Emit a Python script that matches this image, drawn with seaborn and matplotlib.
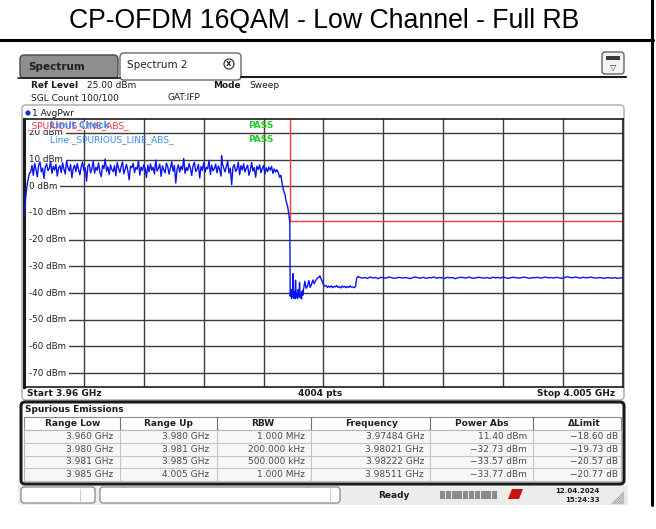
import numpy as np
import pandas as pd
import matplotlib
matplotlib.use("Agg")
import matplotlib.pyplot as plt
from matplotlib.patches import Rectangle, FancyBboxPatch, Circle, Polygon
import seaborn as sns

# ---------------------------------------------------------------- data
title = "CP-OFDM 16QAM - Low Channel - Full RB"

# spurious emission ranges and their measured peaks
range_low_ghz = [3.960, 3.980, 3.981, 3.985]
range_up_ghz = [3.980, 3.981, 3.985, 4.005]
rbw_hz = [1.0e6, 200.0e3, 500.0e3, 1.0e6]
peak_freq_ghz = [3.97484, 3.98021, 3.98222, 3.98511]
peak_power_dbm = [11.40, -32.73, -33.57, -33.77]
limit_dbm = [30.0, -13.0, -13.0, -13.0]

# average power trace, in MHz / dBm
lead_in_mhz = [3960.0, 3960.08, 3960.16, 3960.25, 3960.35, 3960.42]
lead_in_dbm = [-11.5, -7.0, -2.5, 1.0, 3.6, 5.0]

band_start_mhz = 3960.5
band_step_mhz = 0.1
band_dbm = [
    5.2, 7.8, 4.1, 8.6, 6.3, 3.5, 7.9, 9.1, 5.4, 6.8, 2.9, 7.2, 8.4, 5.9, 6.6, 9.3, 4.8, 7.5, 6.1, 8.2,
    3.8, 6.9, 7.7, 5.1, 8.8, 6.4, 4.6, 9.6, 7.0, 5.7, 8.1, 3.2, 6.7, 7.9, 5.5, 8.5, 6.2, 4.3, 7.4, 9.0,
    5.8, 6.9, 1.9, 7.6, 8.3, 5.0, 6.5, 9.4, 4.9, 7.1, 6.0, 8.7, 5.3, 3.6, 7.8, 6.6, 10.2, 5.6, 7.3, 4.4,
    8.0, 6.2, 5.5, 7.7, 3.9, 8.9, 6.8, 5.2, 7.4, 9.1, 4.7, 6.3, 8.2, 5.8, 2.4, 7.5, 6.9, 8.6, 5.1, 7.0,
    6.4, 9.5, 4.2, 7.2, 5.9, 8.1, 6.6, 3.3, 7.9, 5.4, 8.4, 6.0, 7.1, 4.6, 9.8, 5.7, 6.8, 8.3, 3.7, 7.6,
    6.1, 5.0, 8.7, 7.3, 4.5, 6.9, 9.2, 5.6, 7.8, 1.2, 6.4, 8.0, 5.3, 7.5, 6.2, 10.4, 4.8, 7.0, 5.9, 8.5,
    6.7, 4.0, 7.7, 9.0, 5.5, 6.3, 8.2, 3.1, 7.4, 6.0, 8.8, 5.2, 7.1, 6.5, 9.7, 4.4, 7.9, 5.8, 6.6, 8.3,
    5.0, 7.6, 6.2, 3.8, 8.6, 6.9, 5.4, 7.3, 9.4, 4.9, 6.8, 0.6, 7.2, 8.1, 5.6, 6.4, 9.0, 4.3, 7.7, 6.1,
    8.4, 5.3, 6.7, 7.9, 4.1, 6.0, 8.9, 5.7, 7.0, 3.4, 7.5, 6.3, 8.0, 5.1, 6.6, 7.8, 4.6, 6.9, 5.5, 7.2,
    6.0, 7.4, 4.8, 6.5, 5.3, 6.2,
]

rolloff_mhz = [3979.1, 3979.2, 3979.3, 3979.4, 3979.5, 3979.6, 3979.7, 3979.8, 3979.9, 3979.97]
rolloff_dbm = [5.2, 3.4, 4.1, 0.8, -1.6, -2.9, -5.8, -7.4, -10.6, -13.6]

edge_start_mhz = 3980.0
edge_step_mhz = 0.05
edge_dbm = [-41.2, -38.6, -42.0, -40.7, -41.6, -41.9, -39.5, -42.2, -35.2, -41.7,
            -40.1, -42.1, -38.7, -41.4, -36.0, -41.8, -40.4, -42.2, -39.2, -40.8]

shoulder_start_mhz = 3981.0
shoulder_step_mhz = 0.1
shoulder_dbm = [-38.6, -35.6, -38.2, -37.4, -35.3, -37.9, -36.7, -35.1, -36.5, -35.4,
                -34.7, -34.2, -33.9, -34.5, -35.6, -36.8, -37.4, -37.2, -37.9, -37.4,
                -37.8, -37.3, -38.0, -37.5, -37.7, -37.2, -37.9, -37.6, -38.1, -37.4,
                -37.8, -37.5, -38.0, -37.6, -37.9, -37.3, -37.8, -37.7, -38.0, -37.6]

floor_start_mhz = 3985.0
floor_step_mhz = 0.2
floor_dbm = [
    -34.3, -34.1, -34.4, -34.2, -34.5, -34.0, -34.3, -34.2, -34.6, -34.1,
    -34.3, -34.4, -34.0, -34.2, -34.5, -34.3, -34.1, -34.4, -34.2, -34.3,
    -34.6, -34.2, -34.0, -34.3, -34.4, -34.1, -34.5, -34.2, -34.3, -34.0,
    -34.4, -34.2, -34.3, -34.5, -34.1, -34.3, -34.2, -34.6, -34.3, -34.1,
    -34.2, -34.4, -34.0, -34.3, -34.5, -34.2, -34.1, -34.3, -34.4, -34.2,
    -34.5, -34.1, -34.3, -34.2, -34.4, -34.0, -34.3, -34.5, -34.2, -34.1,
    -34.3, -34.4, -34.2, -34.0, -34.3, -34.5, -34.2, -34.3, -34.1, -34.4,
    -34.2, -34.0, -34.3, -34.2, -34.4, -34.1, -34.3, -34.5, -34.2, -33.9,
    -34.1, -34.3, -34.0, -34.2, -34.4, -34.1, -34.3, -34.2, -34.0, -34.3,
    -34.4, -34.2, -34.3, -34.5, -34.2, -34.3, -34.4, -34.2, -34.5, -34.3, -34.4,
]

y_ticks_dbm = [20, 10, 0, -10, -20, -30, -40, -50, -60, -70]


def stepped(start, step, values):
    return [start + i * step for i in range(len(values))]


freq_mhz = (lead_in_mhz
            + stepped(band_start_mhz, band_step_mhz, band_dbm)
            + rolloff_mhz
            + stepped(edge_start_mhz, edge_step_mhz, edge_dbm)
            + stepped(shoulder_start_mhz, shoulder_step_mhz, shoulder_dbm)
            + stepped(floor_start_mhz, floor_step_mhz, floor_dbm)
            + [f * 1000 for f in peak_freq_ghz])
level = (lead_in_dbm + band_dbm + rolloff_dbm + edge_dbm + shoulder_dbm
         + floor_dbm + peak_power_dbm)
trace = pd.DataFrame({"freq_ghz": np.array(freq_mhz) / 1000.0, "level_dbm": level})
trace = trace.sort_values("freq_ghz").reset_index(drop=True)

# limit line as a stepped path over the ranges
lim_f, lim_v = [], []
for lo, up, lim in zip(range_low_ghz, range_up_ghz, limit_dbm):
    lim_f += [lo, up]
    lim_v += [lim, lim]

# ---------------------------------------------------------------- figure
sns.set_theme(style="white")
plt.rcParams["font.family"] = ["DejaVu Sans"]

W, H = 656, 529
fig = plt.figure(figsize=(W / 100, H / 100), dpi=100)
fig.patch.set_facecolor("white")

bg = fig.add_axes([0, 0, 1, 1])
bg.set_xlim(0, W)
bg.set_ylim(H, 0)
bg.axis("off")


def box(x0, y0, x1, y1, fc, ec, lw=1.0, r=0.0, z=1):
    if r:
        p = FancyBboxPatch((x0, y0), x1 - x0, y1 - y0,
                           boxstyle=f"round,pad=0,rounding_size={r}",
                           fc=fc, ec=ec, lw=lw, zorder=z)
    else:
        p = Rectangle((x0, y0), x1 - x0, y1 - y0, fc=fc, ec=ec, lw=lw, zorder=z)
    bg.add_patch(p)


def label(x, y, s, size=6.5, weight="normal", color="#1a1a1a", ha="left", **kw):
    return fig.text(x / W, 1 - y / H, s, fontsize=size, fontweight=weight,
                    color=color, ha=ha, va="center", **kw)


# title cell
label(324, 21, title, size=19.2, color="black", ha="center", family="Liberation Sans")
bg.plot([0, 653], [40, 40], color="black", lw=2.2, zorder=5)
bg.plot([652, 652], [0, 505], color="black", lw=2.2, zorder=5)

# tabs
box(20, 55, 118, 78, fc="#8e8e8e", ec="#4a4a4a", r=4)
label(28, 66.5, "Spectrum", size=7.5, weight="bold", color="#202020")
box(120, 53, 241, 80, fc="white", ec="#6a6a6a", r=4)
label(127, 65, "Spectrum 2", size=7.5, color="#202020")
bg.add_patch(Circle((229, 64), 5.0, fc="white", ec="#333333", lw=0.9, zorder=2))
label(229, 64, "x", size=6, weight="bold", ha="center", color="#202020")
bg.plot([241, 626], [76.5, 76.5], color="#1a1a1a", lw=1.5, zorder=3)
bg.plot([18, 120], [77.5, 77.5], color="#1a1a1a", lw=1.2, zorder=3)
box(602, 52, 624, 74, fc="#f4f4f4", ec="#555555", lw=0.9, r=3)
box(606, 56, 620, 60, fc="#3a3a3a", ec="none", z=2)
label(613, 67, "\u25bd", size=6, ha="center", color="#333333")

# header settings
label(31, 86, "Ref Level", weight="bold")
label(87, 86, "25.00 dBm")
label(213, 86, "Mode", weight="bold")
label(249, 86, "Sweep")
label(31, 98, "SGL Count 100/100")
label(168, 98, "GAT:IFP")

# diagram frame
box(22, 105, 624, 400, fc="none", ec="#a8a8a8", lw=1.0, r=4)
bg.add_patch(Circle((28, 113), 2.6, fc="#1030e0", ec="none", zorder=2))
label(32, 113, "1 AvgPwr")
label(27, 393, "Start 3.96 GHz", weight="bold")
label(320, 393, "4004 pts", weight="bold", ha="center")
label(615, 393, "Stop 4.005 GHz", weight="bold", ha="right")

# spectrum diagram
x0, x1, y0, y1 = 24, 623, 119.5, 386.5
ax = fig.add_axes([x0 / W, 1 - y1 / H, (x1 - x0) / W, (y1 - y0) / H])
ax.set_facecolor("white")
ax.set_xlim(range_low_ghz[0], range_up_ghz[-1])
ax.set_ylim(-75, 25)
ax.set_xticks(np.linspace(range_low_ghz[0], range_up_ghz[-1], 11))
ax.set_yticks(y_ticks_dbm)
ax.grid(True, color="#3c3c3c", lw=1.0)
ax.set_axisbelow(True)
ax.tick_params(length=0, labelbottom=False, labelleft=False)
for side, sp in ax.spines.items():
    sp.set_color("#1a1a1a")
    sp.set_linewidth(1.2)
ax.spines["left"].set_linewidth(2.2)

for v in y_ticks_dbm:
    ax.text(0.008, v, f"{v} dBm", transform=ax.get_yaxis_transform(),
            fontsize=6.3, va="center", ha="left", color="#202020", zorder=2,
            bbox=dict(fc="white", ec="none", pad=2.4))

ax.plot(lim_f, lim_v, color="#ff3838", lw=1.0, zorder=2.5)
sns.lineplot(data=trace, x="freq_ghz", y="level_dbm", ax=ax, color="#0a14f0",
             lw=1.0, sort=False, estimator=None, zorder=3)
ax.set_xlabel("")
ax.set_ylabel("")

# limit check annotations
label(27, 125.5, "_SPURIOUS_LINE_ABS_", color="#ff3030",
      bbox=dict(fc="white", ec="none", pad=0.3))
label(50, 125.5, "Limit Check", color="#3a8cff", weight="bold")
label(248, 125.5, "PASS", color="#22cc22", weight="bold")
label(50, 140, "Line _SPURIOUS_LINE_ABS_", color="#3a8cff")
label(248, 140, "PASS", color="#22cc22", weight="bold")

# spurious emissions table
box(21, 402, 624, 484, fc="white", ec="#1a1a1a", lw=2.2, r=4)
label(25, 410, "Spurious Emissions", weight="bold")
box(24, 417, 621, 430, fc="white", ec="#8a8a8a", lw=0.8, z=2)
box(24, 430, 621, 481, fc="#f7f7f7", ec="#b8b8b8", lw=0.8, z=2)
col_sep = [120, 217, 311, 430, 533]
for xs in col_sep:
    bg.plot([xs, xs], [417, 430], color="#707070", lw=0.8, zorder=3)
    bg.plot([xs, xs], [430, 481], color="#c4c4c4", lw=0.8, zorder=3)
for ys in [442.8, 455.5, 468.2]:
    bg.plot([24, 621], [ys, ys], color="#c4c4c4", lw=0.8, zorder=3)

headers = ["Range Low", "Range Up", "RBW", "Frequency", "Power Abs", "\u0394Limit"]
head_x = [73, 168, 263, 372, 482, 584]
for hx, h in zip(head_x, headers):
    label(hx, 424, h, weight="bold", ha="center", color="#202020")


def fmt_rbw(v):
    return f"{v / 1e6:.3f} MHz" if v >= 1e6 else f"{v / 1e3:.3f} kHz"


cell_right = [113, 209, 305, 424, 527, 618]
row_y = [436.5, 449.2, 461.9, 474.6]
for i, ry in enumerate(row_y):
    cells = [f"{range_low_ghz[i]:.3f} GHz", f"{range_up_ghz[i]:.3f} GHz",
             fmt_rbw(rbw_hz[i]), f"{peak_freq_ghz[i]:.5f} GHz",
             f"{peak_power_dbm[i]:.2f} dBm",
             f"{peak_power_dbm[i] - limit_dbm[i]:.2f} dB"]
    for cx, s in zip(cell_right, cells):
        label(cx, ry, s.replace("-", "\u2212"), ha="right", color="#4a4a4a")

# status bar
box(18, 485, 628, 505, fc="#ececec", ec="none", z=0.5)
box(21, 487, 95, 503, fc="white", ec="#7a7a7a", lw=0.8, r=3)
bg.plot([80, 80], [489, 501], color="#d0d0d0", lw=0.8, zorder=3)
box(100, 487, 340, 503, fc="white", ec="#7a7a7a", lw=0.8, r=3)
bg.plot([330, 330], [489, 501], color="#d0d0d0", lw=0.8, zorder=3)
label(378, 495, "Ready", weight="bold")
for k in range(10):
    box(440 + k * 5.8, 491, 440 + k * 5.8 + 5.0, 499, fc="#8a8a8a", ec="none", z=2)
bg.add_patch(Polygon([(508, 499), (512, 489), (523, 489), (519, 499)],
                     closed=True, fc="#cc1010", ec="none", zorder=2))
label(600, 491, "12.04.2024", size=5, weight="bold", ha="right")
label(600, 500, "15:24:33", size=5, weight="bold", ha="right")
for k in range(5):
    bg.plot([612 + k * 2.5, 624], [504, 492 + k * 2.5], color="#8a8a8a", lw=0.6, zorder=3)

fig.savefig("out.png", dpi=100, facecolor="white")
